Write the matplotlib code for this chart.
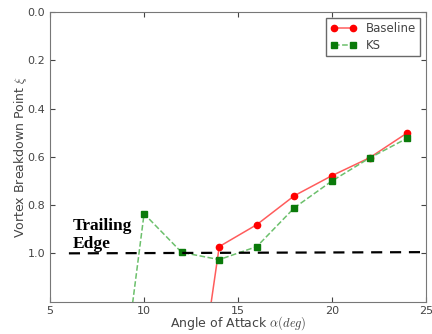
import numpy as np
import matplotlib
matplotlib.use('Agg')
import matplotlib.pyplot as plt

# angles of attack and breakdown positions
alpha_base = [12, 14, 16, 18, 20, 22, 24]
xi_base = [2.05, 0.972, 0.881, 0.761, 0.678, 0.604, 0.501]

alpha_ks = [8, 10, 12, 14, 16, 18, 20, 22, 24]
xi_ks = [2.05, 0.836, 0.996, 1.026, 0.972, 0.811, 0.700, 0.605, 0.523]

te_x = [6, 25]
te_y = [1.0, 0.995]

xticks = [5, 10, 15, 20, 25]
yticks = [0.0, 0.2, 0.4, 0.6, 0.8, 1.0]

def plot_breakdown():
    plt.rcParams['mathtext.fontset'] = 'cm'
    fig = plt.figure(figsize=(4.32, 3.34), dpi=100)
    ax = fig.add_axes([0.116, 0.097, 0.870, 0.867])

    ax.plot(alpha_base, xi_base, '-o', color='#ff5c5c', lw=1.1,
            mfc='red', mec='red', ms=4.5, label='Baseline')
    ax.plot(alpha_ks, xi_ks, '--s', color='#6cc06c', lw=1.1,
            mfc='#0a7a0a', mec='#0a7a0a', ms=4.5, label='KS')
    ax.plot(te_x, te_y, '--', color='black', lw=1.6, dashes=(5, 3.5))

    ax.text(6.2, 0.905, 'Trailing', family='Liberation Serif',
            fontweight='bold', fontsize=12.5)
    ax.text(6.2, 0.977, 'Edge', family='Liberation Serif',
            fontweight='bold', fontsize=12.5)

    ax.set_xlim(5, 25)
    ax.set_ylim(1.2, 0.0)
    ax.set_xticks(xticks)
    ax.set_yticks(yticks)
    ax.tick_params(direction='in', top=True, right=True, labelsize=8,
                   colors='#444444', length=3.5)
    ax.tick_params(axis='x', pad=3)
    for s in ax.spines.values():
        s.set_color('#777777')

    ax.set_xlabel(r'Angle of Attack $\alpha(deg)$', fontsize=9,
                  color='#444444', labelpad=-1)
    ax.set_ylabel(r'Vortex Breakdown Point $\xi$', fontsize=9,
                  color='#444444', labelpad=-1)

    leg = ax.legend(loc='upper right', numpoints=2, fontsize=8.5,
                    fancybox=False, handlelength=2.2, borderaxespad=0.5,
                    labelspacing=0.35, borderpad=0.35)
    leg.get_frame().set_edgecolor('#444444')
    for t in leg.get_texts():
        t.set_color('#444444')

    fig.savefig('out.png', dpi=100)

if __name__ == '__main__':
    plot_breakdown()
